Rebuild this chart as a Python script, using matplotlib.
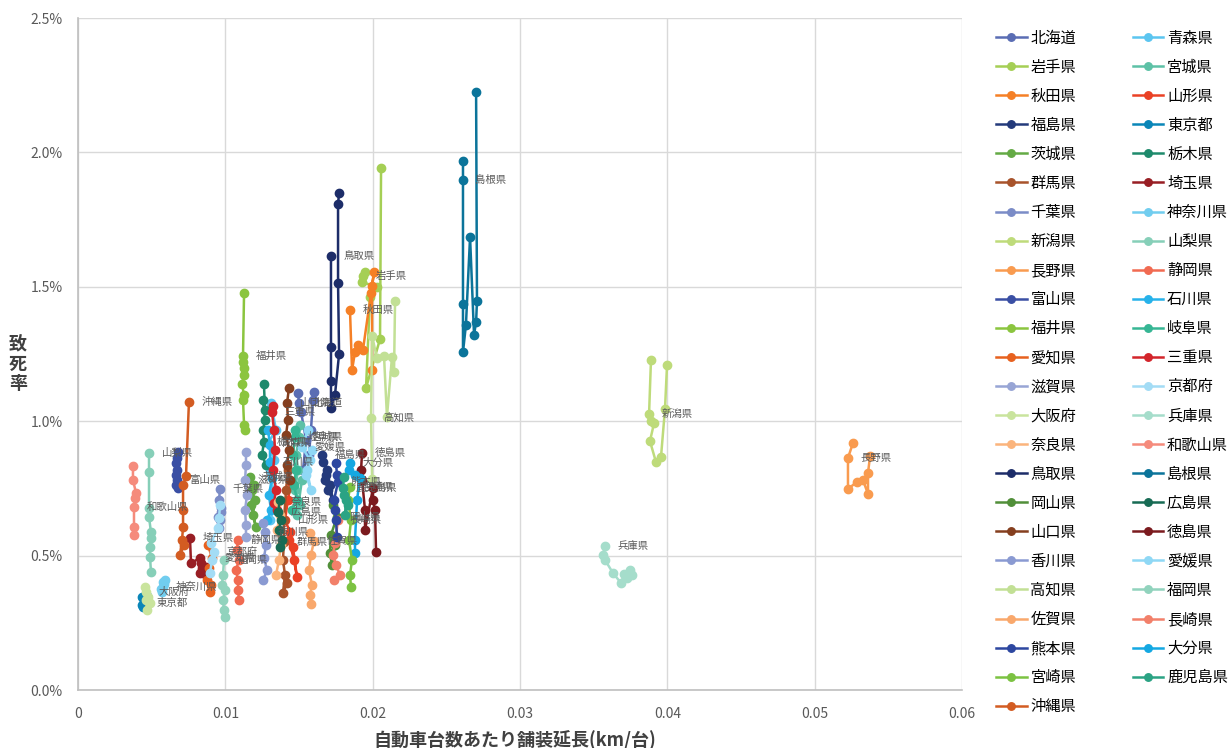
import matplotlib
matplotlib.use('Agg')
import matplotlib.pyplot as plt
from matplotlib.ticker import FuncFormatter

plt.rcParams['font.family'] = ['Noto Sans CJK JP', 'DejaVu Sans']

# 都道府県 (凡例の並び順)
prefs = ['北海道', '青森県', '岩手県', '宮城県', '秋田県', '山形県', '福島県', '東京都',
         '茨城県', '栃木県', '群馬県', '埼玉県', '千葉県', '神奈川県', '新潟県', '山梨県',
         '長野県', '静岡県', '富山県', '石川県', '福井県', '岐阜県', '愛知県', '三重県',
         '滋賀県', '京都府', '大阪府', '兵庫県', '奈良県', '和歌山県', '鳥取県', '島根県',
         '岡山県', '広島県', '山口県', '徳島県', '香川県', '愛媛県', '高知県', '福岡県',
         '佐賀県', '長崎県', '熊本県', '大分県', '宮崎県', '鹿児島県', '沖縄県']

colors = ['#5A6DB4', '#5BC5F0', '#A5CF55', '#5DC1A6', '#F58026', '#EA4125', '#243A7B', '#0A86B8',
          '#64AA45', '#1E8A6C', '#A8532B', '#981E24', '#7B8CC7', '#71CDEF', '#BEDB7A', '#86CFB8',
          '#F99B4F', '#F16A51', '#3A4FA4', '#27B2EA', '#8BC53F', '#36B694', '#E7611F', '#D3252B',
          '#98A5D5', '#A3DCF5', '#C9E49D', '#A5DDCB', '#FBB47C', '#F58B7C', '#1D2D69', '#0B749A',
          '#518F39', '#176B54', '#853F1F', '#7B1A1E', '#8A9AD2', '#8FD8F5', '#C2E095', '#91D3BD',
          '#F9A86C', '#F2806A', '#2D47A0', '#14A8E2', '#7CC242', '#2BA384', '#D35C22']

# 自動車台数あたり舗装延長 (km/台)
road_len = [
    [0.01493, 0.01500, 0.01514, 0.01548, 0.01527, 0.01568, 0.01581, 0.01595, 0.01602],  # 北海道
    [0.01310, 0.01344, 0.01290, 0.01330, 0.01303, 0.01324, 0.01337, 0.01303],  # 青森
    [0.01934, 0.01948, 0.01928, 0.02029, 0.01982, 0.01955, 0.02050, 0.02057],  # 岩手
    [0.01507, 0.01500, 0.01480, 0.01493, 0.01473, 0.01507, 0.01486, 0.01520],  # 宮城
    [0.01846, 0.01860, 0.01880, 0.01900, 0.01934, 0.01989, 0.02009, 0.01996, 0.01996],  # 秋田
    [0.01446, 0.01425, 0.01405, 0.01439, 0.01459, 0.01486, 0.01466, 0.01432],  # 山形
    [0.01656, 0.01663, 0.01690, 0.01677, 0.01697, 0.01731, 0.01710, 0.01683],  # 福島
    [0.00434, 0.00448, 0.00441, 0.00462, 0.00468, 0.00434, 0.00455, 0.00441],  # 東京
    [0.01167, 0.01181, 0.01201, 0.01188, 0.01208, 0.01174, 0.01195],  # 茨城
    [0.01262, 0.01269, 0.01256, 0.01269, 0.01256, 0.01262, 0.01249, 0.01276],  # 栃木
    [0.01425, 0.01412, 0.01398, 0.01398, 0.01391, 0.01405, 0.01391, 0.01419],  # 群馬
    [0.00760, 0.00767, 0.00828, 0.00835, 0.00842, 0.00828, 0.00869, 0.00869],  # 埼玉
    [0.00964, 0.00957, 0.00971, 0.00950, 0.00964, 0.00957, 0.00971],  # 千葉
    [0.00577, 0.00577, 0.00570, 0.00591, 0.00563, 0.00584],  # 神奈川
    [0.03889, 0.03876, 0.03889, 0.03910, 0.03882, 0.03923, 0.03957, 0.03984, 0.03998],  # 新潟
    [0.00482, 0.00482, 0.00482, 0.00482, 0.00495, 0.00495, 0.00489, 0.00489, 0.00495],  # 山梨
    [0.05260, 0.05226, 0.05226, 0.05287, 0.05328, 0.05362, 0.05362, 0.05376],  # 長野
    [0.01086, 0.01079, 0.01093, 0.01072, 0.01086, 0.01086, 0.01093],  # 静岡
    [0.00679, 0.00672, 0.00665, 0.00672, 0.00665, 0.00672, 0.00665, 0.00679],  # 富山
    [0.01290, 0.01303, 0.01303, 0.01317, 0.01296, 0.01310, 0.01283],  # 石川
    [0.01127, 0.01120, 0.01120, 0.01127, 0.01127, 0.01113, 0.01127, 0.01120, 0.01127, 0.01134],  # 福井
    [0.01473, 0.01473, 0.01459, 0.01480, 0.01466, 0.01486, 0.01452],  # 岐阜
    [0.00882, 0.00910, 0.00889, 0.00876, 0.00896, 0.00903],  # 愛知
    [0.01324, 0.01317, 0.01330, 0.01337, 0.01324, 0.01344, 0.01330, 0.01351],  # 三重
    [0.01140, 0.01140, 0.01134, 0.01147, 0.01134, 0.01140, 0.01140],  # 滋賀
    [0.00964, 0.00957, 0.00950, 0.00903, 0.00923, 0.00910, 0.00896],  # 京都
    [0.00462, 0.00455, 0.00475, 0.00489, 0.00468, 0.00462],  # 大阪
    [0.03577, 0.03563, 0.03577, 0.03631, 0.03686, 0.03706, 0.03747, 0.03760, 0.03726],  # 兵庫
    [0.01357, 0.01371, 0.01351, 0.01378, 0.01364, 0.01344],  # 奈良
    [0.00373, 0.00373, 0.00394, 0.00387, 0.00380, 0.00380, 0.00380],  # 和歌山
    [0.01717, 0.01717, 0.01717, 0.01717, 0.01744, 0.01772, 0.01765, 0.01765, 0.01772],  # 鳥取
    [0.02613, 0.02613, 0.02613, 0.02613, 0.02633, 0.02661, 0.02688, 0.02702, 0.02708, 0.02702],  # 島根
    [0.01731, 0.01758, 0.01717, 0.01710, 0.01724, 0.01744],  # 岡山
    [0.01371, 0.01357, 0.01378, 0.01364, 0.01385, 0.01371],  # 広島
    [0.01432, 0.01419, 0.01425, 0.01412, 0.01432, 0.01419, 0.01439],  # 山口
    [0.01928, 0.01921, 0.01928, 0.01948, 0.01948, 0.02002, 0.02002, 0.02016, 0.02023],  # 徳島
    [0.01256, 0.01269, 0.01276, 0.01262, 0.01283, 0.01256],  # 香川
    [0.01561, 0.01520, 0.01575, 0.01548, 0.01581, 0.01554, 0.01588],  # 愛媛
    [0.02152, 0.02145, 0.02131, 0.02097, 0.02077, 0.02029, 0.01996, 0.01989, 0.01996],  # 高知
    [0.00991, 0.00984, 0.00977, 0.00998, 0.00984, 0.00991, 0.00998],  # 福岡
    [0.01575, 0.01602, 0.01581, 0.01568, 0.01588, 0.01575, 0.01581],  # 佐賀
    [0.01765, 0.01744, 0.01731, 0.01751, 0.01778, 0.01738],  # 長崎
    [0.01751, 0.01758, 0.01765, 0.01738, 0.01744, 0.01751, 0.01758],  # 熊本
    [0.01846, 0.01839, 0.01880, 0.01914, 0.01894, 0.01880, 0.01880],  # 大分
    [0.01846, 0.01833, 0.01853, 0.01839, 0.01860, 0.01846, 0.01853],  # 宮崎
    [0.01805, 0.01799, 0.01819, 0.01812, 0.01833, 0.01805],  # 鹿児島
    [0.00753, 0.00733, 0.00713, 0.00713, 0.00713, 0.00706, 0.00692, 0.00720],  # 沖縄
]

# 致死率 (%)
fatality = [
    [1.105, 1.068, 1.034, 0.930, 0.818, 0.874, 0.967, 1.079, 1.109],
    [1.068, 0.967, 0.919, 0.856, 0.818, 0.744, 0.688, 0.632],
    [1.540, 1.555, 1.518, 1.499, 1.462, 1.124, 1.306, 1.942],
    [0.986, 0.941, 0.874, 0.818, 0.744, 0.688, 0.651, 0.781],
    [1.414, 1.190, 1.257, 1.283, 1.265, 1.477, 1.555, 1.503, 1.190],
    [0.774, 0.707, 0.632, 0.588, 0.532, 0.420, 0.484, 0.558],
    [0.874, 0.848, 0.818, 0.781, 0.744, 0.707, 0.763, 0.800],
    [0.346, 0.324, 0.309, 0.335, 0.350, 0.316, 0.331, 0.342],
    [0.792, 0.744, 0.707, 0.651, 0.606, 0.688, 0.763],
    [1.138, 1.042, 1.079, 1.004, 0.967, 0.923, 0.874, 0.837],
    [0.818, 0.744, 0.632, 0.551, 0.484, 0.428, 0.361, 0.398],
    [0.565, 0.472, 0.491, 0.472, 0.454, 0.435, 0.458, 0.428],
    [0.748, 0.707, 0.677, 0.644, 0.632, 0.603, 0.662],
    [0.402, 0.383, 0.365, 0.409, 0.376, 0.394],
    [1.228, 1.027, 1.001, 0.993, 0.926, 0.848, 0.867, 1.045, 1.209],
    [0.882, 0.811, 0.677, 0.644, 0.588, 0.565, 0.532, 0.495, 0.439],
    [0.919, 0.863, 0.748, 0.774, 0.781, 0.729, 0.807, 0.871],
    [0.558, 0.521, 0.484, 0.446, 0.409, 0.372, 0.335],
    [0.885, 0.863, 0.844, 0.818, 0.800, 0.781, 0.763, 0.751],
    [0.967, 0.911, 0.848, 0.789, 0.725, 0.670, 0.632],
    [1.477, 1.243, 1.220, 1.198, 1.172, 1.138, 1.097, 1.079, 0.986, 0.967],
    [0.967, 0.941, 0.874, 0.818, 0.763, 0.707, 0.670],
    [0.539, 0.491, 0.454, 0.409, 0.365, 0.391],
    [1.057, 1.034, 0.967, 0.893, 0.818, 0.744, 0.696, 0.670],
    [0.885, 0.837, 0.781, 0.725, 0.670, 0.614, 0.569],
    [0.688, 0.640, 0.603, 0.547, 0.513, 0.484, 0.435],
    [0.365, 0.383, 0.346, 0.324, 0.298, 0.335],
    [0.536, 0.502, 0.484, 0.435, 0.398, 0.432, 0.446, 0.428, 0.417],
    [0.699, 0.651, 0.595, 0.539, 0.484, 0.428],
    [0.833, 0.781, 0.733, 0.714, 0.681, 0.606, 0.577],
    [1.615, 1.276, 1.150, 1.049, 1.097, 1.250, 1.514, 1.808, 1.849],
    [1.968, 1.897, 1.436, 1.257, 1.358, 1.685, 1.321, 1.369, 1.447, 2.225],
    [0.688, 0.644, 0.577, 0.510, 0.465, 0.539],
    [0.707, 0.662, 0.632, 0.595, 0.558, 0.532],
    [1.124, 1.068, 1.004, 0.949, 0.893, 0.837, 0.781],
    [0.882, 0.818, 0.781, 0.670, 0.595, 0.751, 0.707, 0.670, 0.513],
    [0.621, 0.588, 0.539, 0.491, 0.446, 0.409],
    [0.967, 0.904, 0.856, 0.800, 0.744, 0.818, 0.893],
    [1.447, 1.183, 1.239, 1.016, 1.243, 1.235, 1.317, 1.012, 0.785],
    [0.484, 0.428, 0.391, 0.372, 0.335, 0.298, 0.272],
    [0.584, 0.554, 0.502, 0.446, 0.391, 0.353, 0.320],
    [0.632, 0.547, 0.502, 0.465, 0.428, 0.409],
    [0.844, 0.800, 0.774, 0.707, 0.670, 0.632, 0.569],
    [0.844, 0.818, 0.800, 0.789, 0.707, 0.558, 0.510],
    [0.755, 0.707, 0.632, 0.558, 0.484, 0.428, 0.383],
    [0.792, 0.751, 0.707, 0.651, 0.688, 0.725],
    [1.071, 0.796, 0.763, 0.670, 0.606, 0.558, 0.502, 0.539],
]

# データラベルを付ける点の番号
label_at = [1, 2, 0, 1, 0, 2, 0, 1, 0, 5, 3, 0, 0, 1, 1, 0,
            1, 0, 5, 2, 1, 1, 1, 1, 2, 4, 0, 0, 0, 4, 0, 1,
            1, 1, 1, 0, 1, 1, 7, 0, 1, 0, 2, 0, 0, 1, 0]

fig = plt.figure(figsize=(12.3, 7.48), dpi=100)
ax = fig.add_axes([78 / 1230, 58 / 748, 884 / 1230, 672 / 748])

handles = []
for name, c, xs, ys, li in zip(prefs, colors, road_len, fatality, label_at):
    h, = ax.plot(xs, ys, '-o', color=c, lw=1.8, ms=6, mec=c, label=name)
    handles.append(h)
    ax.annotate(name, (xs[li], ys[li]), xytext=(9, 0), textcoords='offset points',
                fontsize=7.5, color='#595959', va='center')

ax.set_xlim(0, 0.06)
ax.set_ylim(0, 2.5)
ax.set_xticks([0, 0.01, 0.02, 0.03, 0.04, 0.05, 0.06])
ax.set_xticklabels(['0', '0.01', '0.02', '0.03', '0.04', '0.05', '0.06'])
ax.set_yticks([0, 0.5, 1.0, 1.5, 2.0, 2.5])
ax.yaxis.set_major_formatter(FuncFormatter(lambda v, p: f'{v:.1f}%'))
ax.grid(color='#D9D9D9', lw=1)
ax.set_axisbelow(True)
for s in ['top', 'right']:
    ax.spines[s].set_visible(False)
for s in ['left', 'bottom']:
    ax.spines[s].set_color('#BFBFBF')
    ax.spines[s].set_linewidth(1.2)
ax.tick_params(length=0, labelsize=10, colors='#595959')
ax.tick_params(axis='x', pad=12)
ax.tick_params(axis='y', pad=11)

fig.text(18 / 1230, 1 - 364 / 748, '致\n死\n率', ha='center', va='center',
         fontsize=13, fontweight='bold', color='#404040', linespacing=1.05)
fig.text(515 / 1230, 1 - 740 / 748, '自動車台数あたり舗装延長(km/台)', ha='center', va='center',
         fontsize=13, fontweight='bold', color='#404040')

# 凡例は行方向に並べる
order = list(range(0, 47, 2)) + list(range(1, 47, 2))
fig.legend(handles=[handles[i] for i in order], loc='upper left',
           bbox_to_anchor=(996 / 1230, 1 - 29.5 / 748), ncol=2, frameon=False,
           fontsize=11, handlelength=2.0, handletextpad=0.25, columnspacing=3.7,
           labelspacing=0.79, borderaxespad=0, borderpad=0, markerscale=0.9)

fig.savefig('out.png', dpi=100)
